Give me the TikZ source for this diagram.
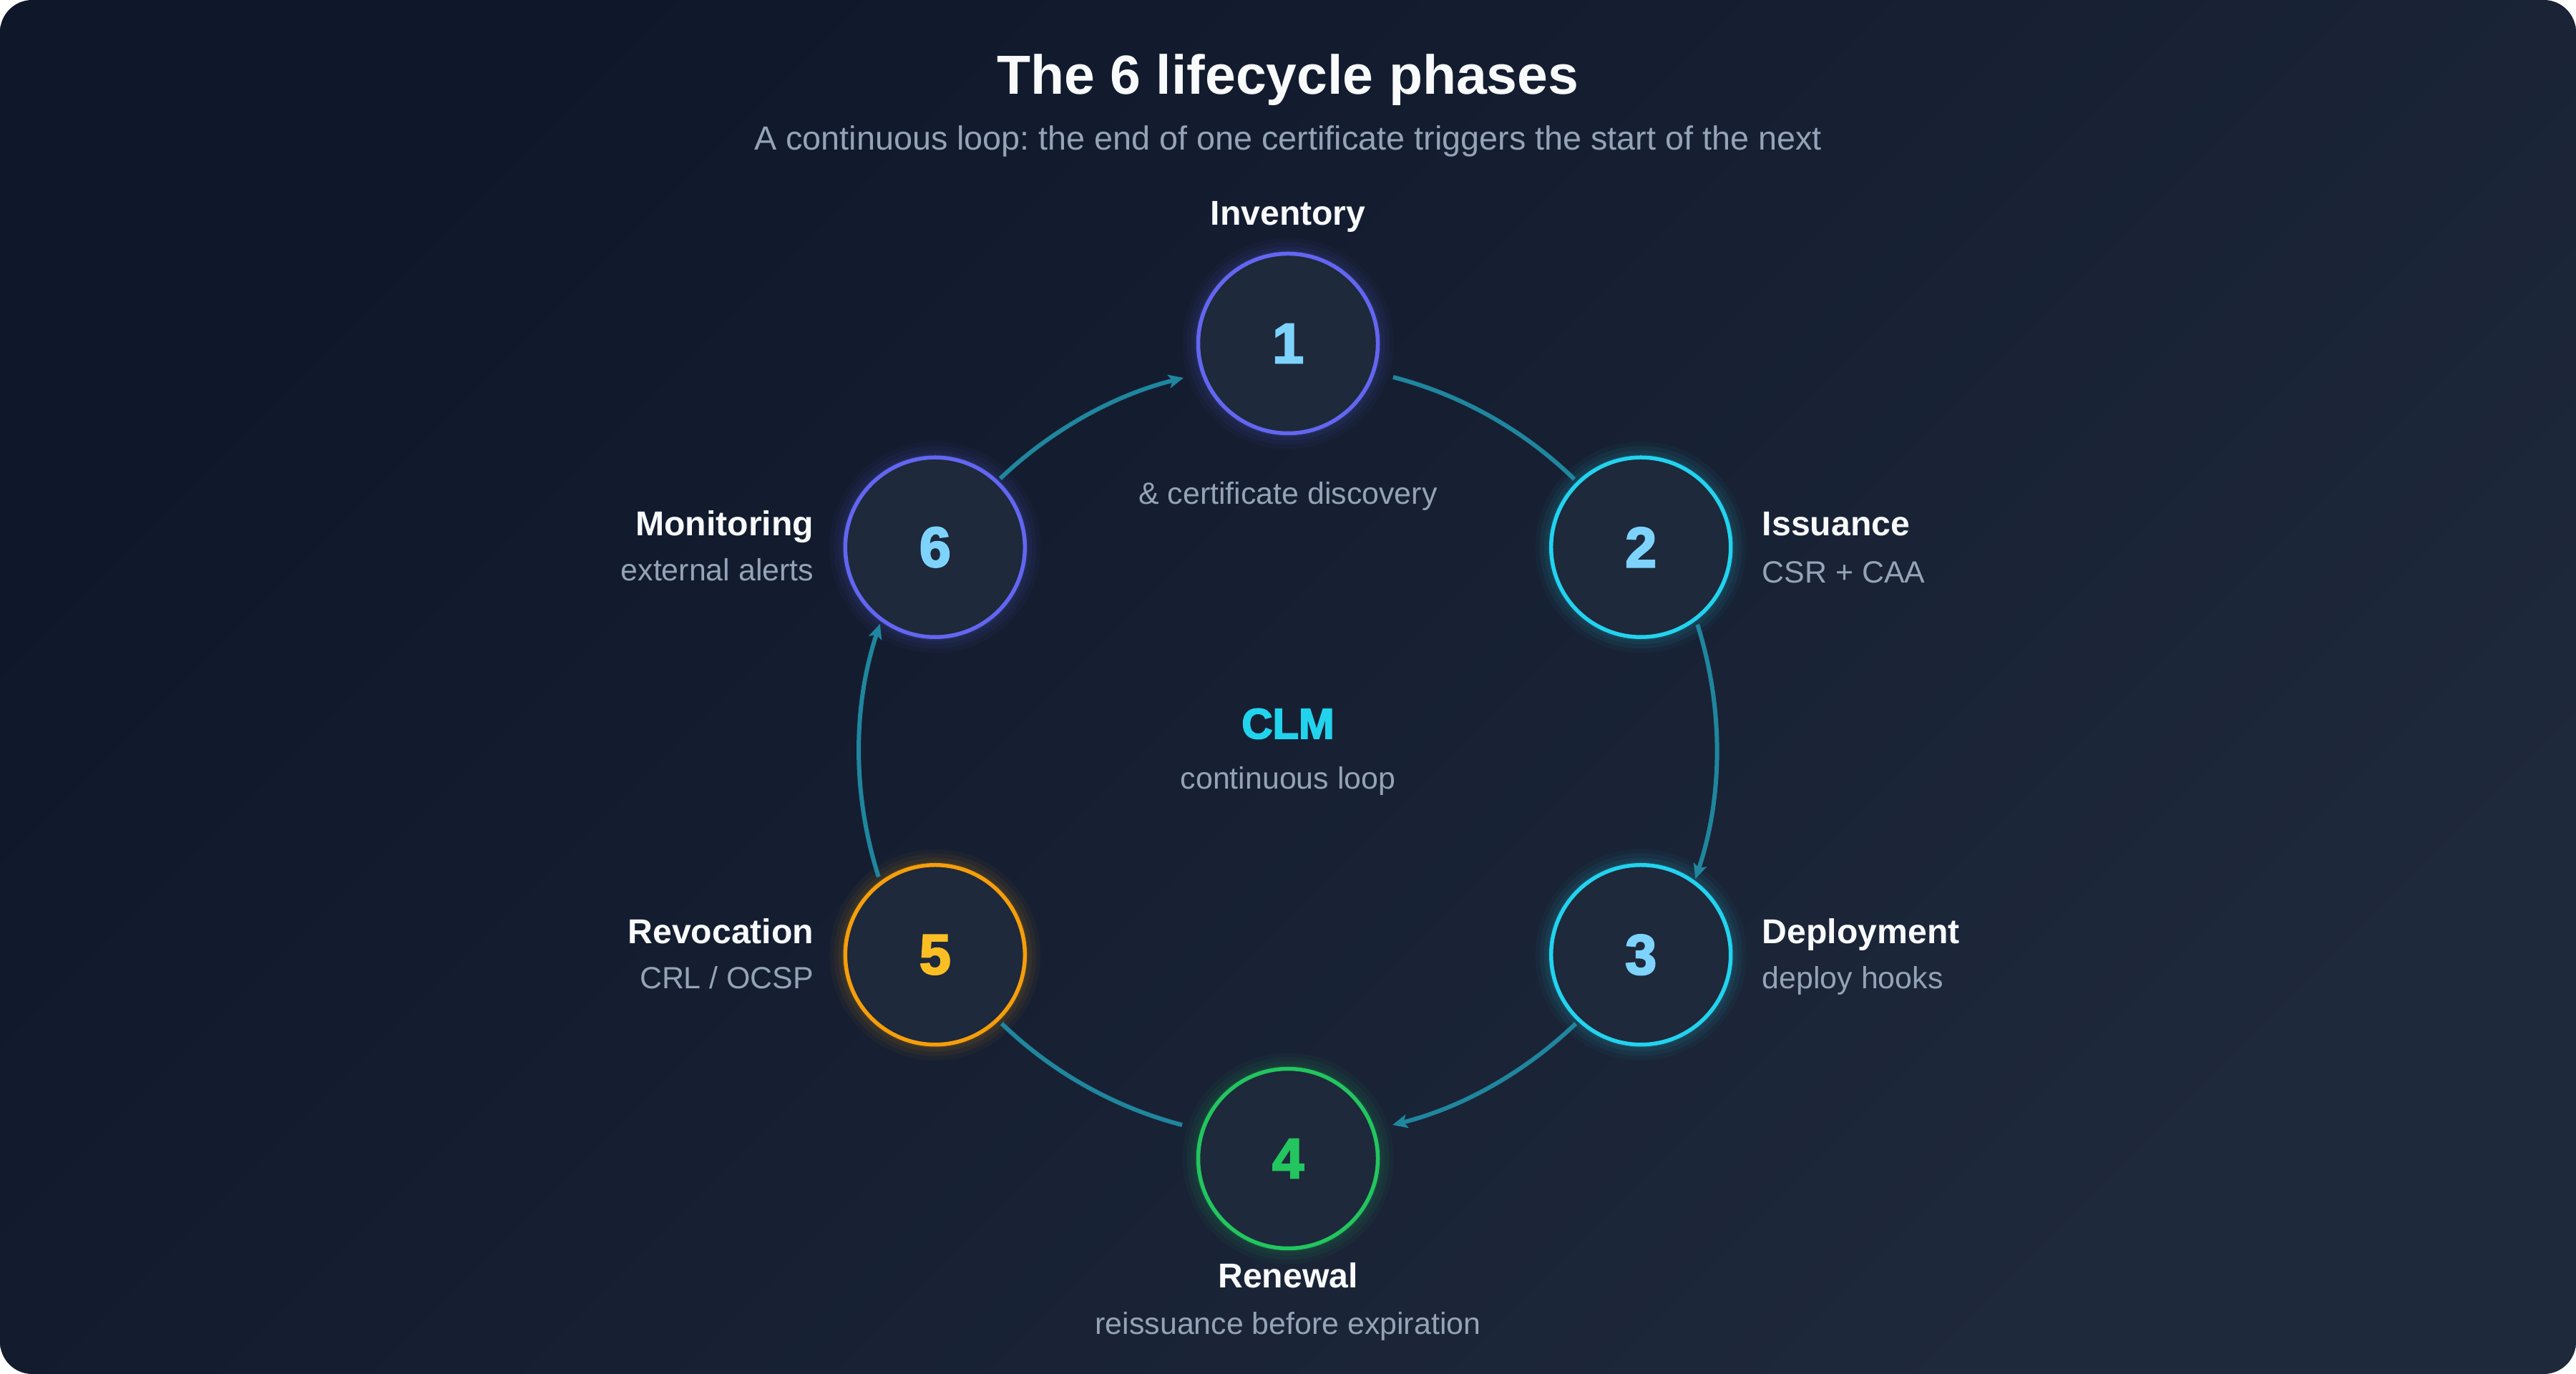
\documentclass[tikz,border=0pt]{standalone}
\usepackage{fontspec}
\setmainfont{Liberation Sans}
\newfontfamily\numfamily{Liberation Sans}[BoldFeatures={FakeBold=3}]
\usetikzlibrary{arrows.meta,calc}
\frenchspacing

\definecolor{bgtop}{HTML}{0F172A}
\definecolor{bgbot}{HTML}{1E293B}
\definecolor{nodebg}{HTML}{1E293B}
\definecolor{textwhite}{HTML}{F8FAFC}
\definecolor{muted}{HTML}{94A3B8}
\definecolor{indigo}{HTML}{6366F1}
\definecolor{cyanring}{HTML}{22D3EE}
\definecolor{greenring}{HTML}{22C55E}
\definecolor{amberring}{HTML}{F59E0B}
\definecolor{skynum}{HTML}{7DD3FC}
\definecolor{ambernum}{HTML}{FBBF24}
\definecolor{flowc}{RGB}{31,134,158}

\def\ringr{5.695}

\begin{document}
\begin{tikzpicture}[
    phase/.style={circle, draw=#1, line width=0.055cm, fill=nodebg, minimum size=2.51cm, inner sep=0pt,
      font=\numfamily\bfseries\fontsize{22.5}{26}\selectfont},
    phasename/.style={text=textwhite, inner sep=0pt, font=\bfseries\fontsize{13.7}{16}\selectfont},
    phasenote/.style={text=muted, inner sep=0pt, font=\fontsize{12.2}{14}\selectfont},
    flow/.style={draw=flowc, line width=0.06cm},
    headed/.style={-{Stealth[length=0.21cm,width=0.19cm,inset=0.05cm]}}
  ]
    \useasboundingbox (0,0) rectangle (36,19.2);
    \shade[rounded corners=0.45cm, top color=bgtop, bottom color=bgbot, shading angle=45] (0,0) rectangle (36,19.2);
    \coordinate (ring) at (18,8.705);

    % title
    \node[anchor=base, text=textwhite, font=\bfseries\fontsize{21.9}{26}\selectfont] (title) at (18,17.88) {The 6 lifecycle phases};
    \node[anchor=base, text=muted, font=\fontsize{13.3}{16}\selectfont] (subtitle) at (18,17.10) {A continuous loop: the end of one certificate triggers the start of the next};

    % halos
    \foreach \a/\c in {90/indigo, 30/cyanring, -30/cyanring, -90/greenring, 210/amberring, 150/indigo}
      \foreach \g/\o in {0.05/0.08, 0.10/0.06, 0.16/0.05, 0.22/0.04}
        \fill[\c, opacity=\o] ($(ring)+(\a:\ringr)$) circle ({1.255+\g});

    % phases
    \foreach \i/\a/\c/\t in {1/90/indigo/skynum, 2/30/cyanring/skynum, 3/-30/cyanring/skynum,
                             4/-90/greenring/greenring, 5/210/amberring/ambernum, 6/150/indigo/skynum}
      \node[phase=\c, text=\t] (n\i) at ($(ring)+(\a:\ringr)$) {\i};

    % loop arcs
    \draw[flow,headed] ([shift={(0.91,0.96)}]n6.center) to[bend left=14.9, looseness=0.866] ([shift={(-1.46,-0.48)}]n1.center);
    \draw[flow] ([shift={(1.47,-0.47)}]n1.center) to[bend left=14.8, looseness=0.866] ([shift={(-0.93,0.95)}]n2.center);
    \draw[flow,headed] ([shift={(0.79,-1.08)}]n2.center) to[bend left=18.1, looseness=0.873] ([shift={(0.76,1.06)}]n3.center);
    \draw[flow,headed] ([shift={(-0.91,-0.96)}]n3.center) to[bend left=14.9, looseness=0.866] ([shift={(1.46,0.47)}]n4.center);
    \draw[flow] ([shift={(-1.48,0.47)}]n4.center) to[bend left=14.7, looseness=0.866] ([shift={(0.93,-0.96)}]n5.center);
    \draw[flow,headed] ([shift={(-0.79,1.09)}]n5.center) to[bend left=18.1, looseness=0.873] ([shift={(-0.77,-1.07)}]n6.center);

    % labels
    \node[phasename, anchor=base] (t1) at ([yshift=1.65cm]n1.center) {Inventory};
    \node[phasenote, anchor=base] (d1) at ([yshift=-2.25cm]n1.center) {\& certificate discovery};
    \node[phasename, anchor=base west] (t2) at ([shift={(1.69,0.16)}]n2.center) {Issuance};
    \node[phasenote, anchor=base west] (d2) at ([shift={(1.69,-0.50)}]n2.center) {CSR + CAA};
    \node[phasename, anchor=base west] (t3) at ([shift={(1.69,0.16)}]n3.center) {Deployment};
    \node[phasenote, anchor=base west] (d3) at ([shift={(1.69,-0.47)}]n3.center) {deploy hooks};
    \node[phasename, anchor=base] (t4) at ([yshift=-1.81cm]n4.center) {Renewal};
    \node[phasenote, anchor=base] (d4) at ([yshift=-2.46cm]n4.center) {reissuance before expiration};
    \node[phasename, anchor=base east] (t5) at ([shift={(-1.69,0.16)}]n5.center) {Revocation};
    \node[phasenote, anchor=base east] (d5) at ([shift={(-1.69,-0.47)}]n5.center) {CRL / OCSP};
    \node[phasename, anchor=base east] (t6) at ([shift={(-1.69,0.16)}]n6.center) {Monitoring};
    \node[phasenote, anchor=base east] (d6) at ([shift={(-1.69,-0.47)}]n6.center) {external alerts};

    % centre
    \node[anchor=base, text=cyanring, font=\numfamily\bfseries\fontsize{17}{20}\selectfont] (clm) at ([yshift=0.175cm]ring) {CLM};
    \node[phasenote, anchor=base] (loop) at ([yshift=-0.535cm]ring) {continuous loop};
\end{tikzpicture}
\end{document}
